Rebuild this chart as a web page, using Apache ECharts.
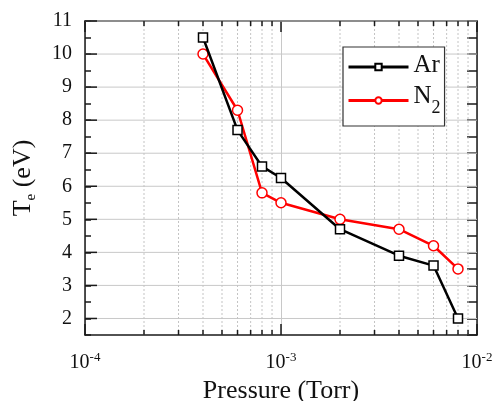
<!DOCTYPE html>
<html><head><meta charset="utf-8">
<script src="https://cdn.jsdelivr.net/npm/echarts@6/dist/echarts.min.js"></script>
<style>html,body{margin:0;padding:0;background:#fff}#c{width:496px;height:401px}</style>
</head><body><div id="c"></div>
<script>
const pressure = [4e-4, 6e-4, 8e-4, 1e-3, 2e-3, 4e-3, 6e-3, 8e-3];
const arTe = [10.5, 7.7, 6.6, 6.25, 4.7, 3.9, 3.6, 2.0];
const n2Te = [10.0, 8.3, 5.8, 5.5, 5.0, 4.7, 4.2, 3.5];
const yMajorTicks = [2, 3, 4, 5, 6, 7, 8, 9, 10, 11];
const xMinorTicks = [2e-4,3e-4,4e-4,5e-4,6e-4,7e-4,8e-4,9e-4,2e-3,3e-3,4e-3,5e-3,6e-3,7e-3,8e-3,9e-3];
const X_MIN = 1e-4, X_MAX = 1e-2, Y_MIN = 1.5, Y_MAX = 11;

const FONT = 'Liberation Serif';
const AX = '#1a1a1a';
const GRID = '#c8c8c8';

const chart = echarts.init(document.getElementById('c'));
chart.setOption({
  backgroundColor: '#fff',
  animation: false,
  grid: {left: 85, right: 19, top: 21, bottom: 66, containLabel: false, outerBoundsMode: 'none'},
  legend: {
    orient: 'vertical', left: 343, top: 47,
    padding: [6, 4, 9, 4], itemGap: 6,
    itemWidth: 60, itemHeight: 8,
    borderColor: '#333', borderWidth: 1.2, backgroundColor: '#fff',
    lineStyle: {width: 3},
    data: ['Ar', 'N2'],
    formatter: n => n === 'N2' ? '{a|N}{s|2}' : '{a|Ar}',
    textStyle: {
      fontFamily: FONT, color: '#111',
      rich: {
        a: {fontFamily: FONT, fontSize: 25, color: '#111', verticalAlign: 'top', lineHeight: 28},
        s: {fontFamily: FONT, fontSize: 18, color: '#111', verticalAlign: 'top', padding: [15, 0, 0, 0]}
      }
    }
  },
  xAxis: [{
    type: 'log', logBase: 10, min: X_MIN, max: X_MAX, position: 'bottom',
    axisLine: {show: true, lineStyle: {color: AX, width: 1.5}},
    axisTick: {show: true, inside: true, length: 11, lineStyle: {color: AX, width: 1.5}},
    axisLabel: {
      margin: 16, color: '#111',
      formatter: v => '{b|10}{p|' + Math.round(Math.log10(v)) + '}',
      rich: {
        b: {fontFamily: FONT, fontSize: 20, color: '#111', verticalAlign: 'bottom'},
        p: {fontFamily: FONT, fontSize: 13, color: '#111', verticalAlign: 'top', padding: [0, 0, 9, 0]}
      }
    },
    splitLine: {show: true, lineStyle: {color: GRID, width: 1}},
    name: 'Pressure (Torr)', nameLocation: 'middle', nameGap: 39,
    nameTextStyle: {fontFamily: FONT, fontSize: 26, color: '#111'}
  }, {
    type: 'log', logBase: 10, min: X_MIN, max: X_MAX, position: 'top',
    axisLine: {show: true, lineStyle: {color: AX, width: 1.5}},
    axisTick: {show: true, inside: true, length: 11, lineStyle: {color: AX, width: 1.5}},
    axisLabel: {show: false}, splitLine: {show: false}
  }],
  yAxis: [{
    type: 'value', min: Y_MIN, max: Y_MAX, interval: 0.5, position: 'left',
    axisLine: {show: true, lineStyle: {color: AX, width: 1.5}},
    axisTick: {show: true, inside: true, length: 6, lineStyle: {color: AX, width: 1.5}},
    axisLabel: {
      margin: 13, fontFamily: FONT, fontSize: 20, color: '#111',
      formatter: v => Number.isInteger(v) ? String(v) : ''
    },
    splitLine: {show: false},
    name: 'T{s|e} (eV)', nameLocation: 'middle', nameGap: 46, nameRotate: 90,
    nameTextStyle: {
      fontFamily: FONT, fontSize: 26, color: '#111',
      rich: {s: {fontFamily: FONT, fontSize: 15, color: '#111', padding: [16, 0, 0, 0]}}
    }
  }, {
    type: 'value', min: Y_MIN, max: Y_MAX, interval: 0.5, position: 'right',
    axisLine: {show: true, lineStyle: {color: AX, width: 1.5}},
    axisTick: {show: true, inside: true, length: 10, lineStyle: {color: AX, width: 1.5}},
    axisLabel: {show: false}, splitLine: {show: false}
  }],
  series: [{
    type: 'custom', name: 'ygrid', z: 1, silent: true, clip: false,
    xAxisIndex: 0, yAxisIndex: 0,
    data: yMajorTicks.map(v => [X_MIN, v]),
    encode: {x: 0, y: 1},
    renderItem: (params, api) => {
      const y = api.value(1);
      const p0 = api.coord([X_MIN, y]);
      const p1 = api.coord([X_MAX, y]);
      return {type: 'group', children: [
        {type: 'line', shape: {x1: p0[0], y1: p0[1], x2: p1[0], y2: p1[1]}, style: {stroke: GRID, lineWidth: 1}},
        {type: 'line', shape: {x1: p0[0], y1: p0[1], x2: p0[0] + 12, y2: p0[1]}, style: {stroke: AX, lineWidth: 1.5}}
      ]};
    }
  }, {
    type: 'custom', name: 'xminor', z: 1, silent: true, clip: false,
    xAxisIndex: 0, yAxisIndex: 0,
    data: xMinorTicks.map(v => [v, Y_MIN]),
    encode: {x: 0, y: 1},
    renderItem: (params, api) => {
      const x = api.value(0);
      const b = api.coord([x, Y_MIN]);
      const t = api.coord([x, Y_MAX]);
      return {type: 'group', children: [
        {type: 'line', shape: {x1: b[0], y1: b[1], x2: t[0], y2: t[1]}, style: {stroke: '#c4c4c4', lineWidth: 1, lineDash: [2, 2]}},
        {type: 'line', shape: {x1: b[0], y1: b[1], x2: b[0], y2: b[1] - 5}, style: {stroke: AX, lineWidth: 1.5}},
        {type: 'line', shape: {x1: t[0], y1: t[1], x2: t[0], y2: t[1] + 5}, style: {stroke: AX, lineWidth: 1.5}}
      ]};
    }
  }, {
    name: 'Ar', type: 'line', z: 5, xAxisIndex: 0, yAxisIndex: 0,
    data: pressure.map((p, i) => [p, arTe[i]]),
    symbol: 'rect', symbolSize: 9, showAllSymbol: true,
    lineStyle: {color: '#000', width: 2.5},
    itemStyle: {color: '#fff', borderColor: '#000', borderWidth: 1.5},
    color: '#000'
  }, {
    name: 'N2', type: 'line', z: 4, xAxisIndex: 0, yAxisIndex: 0,
    data: pressure.map((p, i) => [p, n2Te[i]]),
    symbol: 'circle', symbolSize: 10, showAllSymbol: true,
    lineStyle: {color: '#f00', width: 2.5},
    itemStyle: {color: '#fff', borderColor: '#f00', borderWidth: 1.5},
    color: '#f00'
  }]
});
</script></body></html>
